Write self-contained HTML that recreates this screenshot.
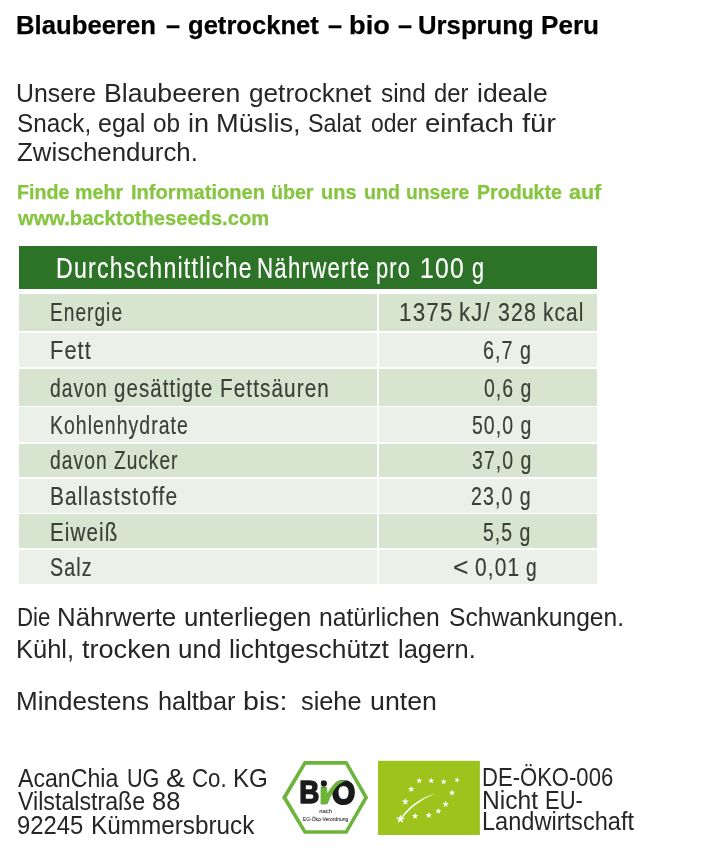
<!DOCTYPE html>
<html lang="de"><head><meta charset="utf-8"><title>Blaubeeren getrocknet</title><style>
html,body{margin:0;padding:0;background:#fff}
body{width:720px;height:856px;position:relative;overflow:hidden;font-family:"Liberation Sans", sans-serif;}
.t{position:absolute;margin:0;padding:0;line-height:1;white-space:pre;transform-origin:0 0;font-weight:400;color:#000}
.w{left:0;width:720px;height:1em}
.w span{position:absolute;top:0;white-space:pre;transform-origin:0 0}
h1.t,.g{font-weight:700}
.g{color:#86c540;-webkit-text-stroke:0.25px #86c540}
h1.t{-webkit-text-stroke:0.25px #000}
.p,.f{color:#262626}
.th{color:#fff}
.td,.tv{color:#3a4037;-webkit-text-stroke:0.2px #3a4037}
.th{-webkit-text-stroke:0.2px #fff}
.head{position:absolute;left:18.6px;top:246px;width:578.6px;height:42.5px;background:#2c7327}
.row{position:absolute;left:18.6px;width:578.6px}
.vsep{position:absolute;left:376.6px;top:294px;width:2px;height:290px;background:#fff}
svg{position:absolute;left:0;top:0}
</style></head><body>
<div class="head"></div>
<div class="row" style="top:294.0px;height:36.8px;background:#d7e4d0"></div>
<div class="row" style="top:332.6px;height:34.4px;background:#ebf0e8"></div>
<div class="row" style="top:368.8px;height:36.8px;background:#d7e4d0"></div>
<div class="row" style="top:407.4px;height:34.6px;background:#ebf0e8"></div>
<div class="row" style="top:443.8px;height:33.6px;background:#d7e4d0"></div>
<div class="row" style="top:479.2px;height:33.4px;background:#ebf0e8"></div>
<div class="row" style="top:514.4px;height:33.5px;background:#d7e4d0"></div>
<div class="row" style="top:549.7px;height:34.3px;background:#ebf0e8"></div>
<div class="vsep"></div>
<h1 class="t w title" style="top:12.00px;font-size:26.60px"><span style="left:16.48px;transform:scaleX(0.9672)">Blaubeeren</span> <span style="left:165.74px;transform:scaleX(0.9491)">–</span> <span style="left:187.95px;transform:scaleX(0.9623)">getrocknet</span> <span style="left:328.24px;transform:scaleX(0.9491)">–</span> <span style="left:349.20px;transform:scaleX(1.0244)">bio</span> <span style="left:398.24px;transform:scaleX(0.9491)">–</span> <span style="left:418.45px;transform:scaleX(0.9671)">Ursprung</span> <span style="left:540.76px;transform:scaleX(0.9802)">Peru</span></h1>
<p class="t w p" style="top:80.00px;font-size:26.60px"><span style="left:16.08px;transform:scaleX(0.9332)">Unsere</span> <span style="left:104.31px;transform:scaleX(1.0026)">Blaubeeren</span> <span style="left:248.90px;transform:scaleX(0.9846)">getrocknet</span> <span style="left:380.82px;transform:scaleX(0.9171)">sind</span> <span style="left:434.00px;transform:scaleX(0.8946)">der</span> <span style="left:476.73px;transform:scaleX(0.9966)">ideale</span></p>
<p class="t w p" style="top:110.00px;font-size:26.60px"><span style="left:16.90px;transform:scaleX(0.9135)">Snack,</span> <span style="left:97.94px;transform:scaleX(0.9392)">egal</span> <span style="left:152.98px;transform:scaleX(0.9140)">ob</span> <span style="left:188.19px;transform:scaleX(1.0176)">in</span> <span style="left:216.27px;transform:scaleX(1.0232)">Müslis,</span> <span style="left:307.94px;transform:scaleX(0.8780)">Salat</span> <span style="left:370.54px;transform:scaleX(0.8611)">oder</span> <span style="left:425.33px;transform:scaleX(1.0372)">einfach</span> <span style="left:522.09px;transform:scaleX(1.0985)">für</span></p>
<p class="t p" style="left:17.18px;top:139.00px;font-size:26.60px;transform:scaleX(0.9710)">Zwischendurch.</p>
<p class="t w g" style="top:182.34px;font-size:20.93px"><span style="left:16.79px;transform:scaleX(0.9386)">Finde</span> <span style="left:75.20px;transform:scaleX(0.9397)">mehr</span> <span style="left:130.65px;transform:scaleX(0.9610)">Informationen</span> <span style="left:271.28px;transform:scaleX(0.9373)">über</span> <span style="left:321.26px;transform:scaleX(0.9557)">uns</span> <span style="left:363.78px;transform:scaleX(0.9390)">und</span> <span style="left:406.30px;transform:scaleX(0.9231)">unsere</span> <span style="left:477.19px;transform:scaleX(0.9368)">Produkte</span> <span style="left:569.37px;transform:scaleX(1.0285)">auf</span></p>
<p class="t g" style="left:18.06px;top:208.34px;font-size:20.93px;transform:scaleX(0.9627)">www.backtotheseeds.com</p>
<div class="t w th" style="top:252.83px;font-size:29.94px"><span style="left:56.11px;transform:scaleX(0.7715);letter-spacing:1.600px">Durchschnittliche</span> <span style="left:257.47px;transform:scaleX(0.7456);letter-spacing:1.600px">Nährwerte</span> <span style="left:376.29px;transform:scaleX(0.7300);letter-spacing:1.600px">pro</span> <span style="left:419.82px;transform:scaleX(0.8249);letter-spacing:1.600px">100</span> <span style="left:471.79px;transform:scaleX(0.7204)">g</span></div>
<div class="t td" style="left:49.83px;top:299.29px;font-size:26.02px;transform:scaleX(0.7342);letter-spacing:1.400px">Energie</div>
<div class="t td" style="left:49.62px;top:337.29px;font-size:26.02px;transform:scaleX(0.8330);letter-spacing:1.400px">Fett</div>
<div class="t w td" style="top:375.29px;font-size:26.02px"><span style="left:50.29px;transform:scaleX(0.7421);letter-spacing:1.400px">davon</span> <span style="left:114.14px;transform:scaleX(0.7850);letter-spacing:1.400px">gesättigte</span> <span style="left:220.00px;transform:scaleX(0.7945);letter-spacing:1.400px">Fettsäuren</span></div>
<div class="t td" style="left:49.81px;top:412.29px;font-size:26.02px;transform:scaleX(0.7462);letter-spacing:1.400px">Kohlenhydrate</div>
<div class="t w td" style="top:447.29px;font-size:26.02px"><span style="left:50.29px;transform:scaleX(0.7421);letter-spacing:1.400px">davon</span> <span style="left:113.59px;transform:scaleX(0.7330);letter-spacing:1.400px">Zucker</span></div>
<div class="t td" style="left:49.68px;top:483.29px;font-size:26.02px;transform:scaleX(0.8037);letter-spacing:1.400px">Ballaststoffe</div>
<div class="t td" style="left:49.71px;top:519.29px;font-size:26.02px;transform:scaleX(0.7921);letter-spacing:1.400px">Eiweiß</div>
<div class="t td" style="left:50.31px;top:554.29px;font-size:26.02px;transform:scaleX(0.7566);letter-spacing:1.400px">Salz</div>
<div class="t w tv" style="top:299.29px;font-size:26.02px"><span style="left:399.40px;transform:scaleX(0.8592);letter-spacing:1.400px">1375</span> <span style="left:458.51px;transform:scaleX(0.8485);letter-spacing:1.400px">kJ/</span> <span style="left:497.89px;transform:scaleX(0.8210);letter-spacing:1.400px">328</span> <span style="left:542.50px;transform:scaleX(0.8004);letter-spacing:1.400px">kcal</span></div>
<div class="t tv" style="left:483.20px;top:337.29px;font-size:26.02px;transform:scaleX(0.7557);letter-spacing:1.400px">6,7 g</div>
<div class="t tv" style="left:483.64px;top:375.29px;font-size:26.02px;transform:scaleX(0.7453);letter-spacing:1.400px">0,6 g</div>
<div class="t tv" style="left:471.72px;top:412.29px;font-size:26.02px;transform:scaleX(0.7478);letter-spacing:1.400px">50,0 g</div>
<div class="t tv" style="left:471.76px;top:447.29px;font-size:26.02px;transform:scaleX(0.7486);letter-spacing:1.400px">37,0 g</div>
<div class="t tv" style="left:471.31px;top:483.29px;font-size:26.02px;transform:scaleX(0.7530);letter-spacing:1.400px">23,0 g</div>
<div class="t tv" style="left:483.42px;top:519.29px;font-size:26.02px;transform:scaleX(0.7473);letter-spacing:1.400px">5,5 g</div>
<div class="t w tv" style="top:554.29px;font-size:26.02px"><span style="left:453.40px;transform:scaleX(1.0125)">&lt;</span> <span style="left:474.98px;transform:scaleX(0.8030);letter-spacing:1.400px">0,01</span> <span style="left:525.90px;transform:scaleX(0.7350)">g</span></div>
<p class="t w p" style="top:604.00px;font-size:26.60px"><span style="left:16.57px;transform:scaleX(0.8372)">Die</span> <span style="left:56.88px;transform:scaleX(0.9720)">Nährwerte</span> <span style="left:184.33px;transform:scaleX(0.9675)">unterliegen</span> <span style="left:319.36px;transform:scaleX(0.9279)">natürlichen</span> <span style="left:448.88px;transform:scaleX(0.9248)">Schwankungen.</span></p>
<p class="t w p" style="top:636.00px;font-size:26.60px"><span style="left:16.21px;transform:scaleX(0.9579)">Kühl,</span> <span style="left:81.59px;transform:scaleX(1.0188)">trocken</span> <span style="left:178.31px;transform:scaleX(0.9771)">und</span> <span style="left:228.92px;transform:scaleX(0.9926)">lichtgeschützt</span> <span style="left:398.29px;transform:scaleX(0.9558)">lagern.</span></p>
<p class="t w p" style="top:688.00px;font-size:26.60px"><span style="left:16.17px;transform:scaleX(0.9783)">Mindestens</span> <span style="left:158.24px;transform:scaleX(0.9526)">haltbar</span> <span style="left:242.66px;transform:scaleX(1.0738)">bis:</span> <span style="left:300.60px;transform:scaleX(0.9519)">siehe</span> <span style="left:369.56px;transform:scaleX(1.0062)">unten</span></p>
<p class="t w f" style="top:765.07px;font-size:26.45px"><span style="left:17.55px;transform:scaleX(0.8750)">AcanChia</span> <span style="left:126.73px;transform:scaleX(0.8161)">UG</span> <span style="left:165.50px;transform:scaleX(1.0737)">&amp;</span> <span style="left:192.17px;transform:scaleX(0.8422)">Co.</span> <span style="left:233.32px;transform:scaleX(0.9128)">KG</span></p>
<p class="t w f" style="top:788.07px;font-size:26.45px"><span style="left:17.70px;transform:scaleX(0.8773)">Vilstalstraße</span> <span style="left:152.49px;transform:scaleX(0.9623)">88</span></p>
<p class="t w f" style="top:812.07px;font-size:26.45px"><span style="left:17.18px;transform:scaleX(0.9017)">92245</span> <span style="left:91.31px;transform:scaleX(0.9191)">Kümmersbruck</span></p>
<p class="t f" style="left:482.19px;top:764.58px;font-size:25.44px;transform:scaleX(0.8672)">DE-ÖKO-006</p>
<p class="t w f" style="top:787.58px;font-size:25.44px"><span style="left:481.98px;transform:scaleX(0.9661)">Nicht</span> <span style="left:544.90px;transform:scaleX(0.8646)">EU-</span></p>
<p class="t f" style="left:482.07px;top:808.58px;font-size:25.44px;transform:scaleX(0.9267)">Landwirtschaft</p>
<svg width="720" height="856" viewBox="0 0 720 856">
<polygon points="282.1,797.6 304,761 347.2,761 368.2,797.4 347.2,833.7 304,833.7" fill="#6cb43a"/>
<polygon points="286.6,797.6 305.9,764.8 345.3,764.8 364.0,797.4 345.3,830.2 305.9,830.2" fill="#fff"/>
<g font-family="'Liberation Sans', sans-serif" font-weight="700" fill="#1a1a1a" stroke="#1a1a1a" stroke-width="1.6" stroke-linejoin="round">
<text transform="translate(299.2,803.1) scale(0.897,1)" font-size="31.0">B</text>
<text transform="translate(319.2,803.6)" font-size="31" stroke-width="0.5">i</text>
<text transform="translate(331.9,804.0) scale(0.894,1)" font-size="33.3" stroke-width="2.2">O</text>
</g>
<path d="M320.6,787.3 L326.9,787.3 L327.5,793.3 C329,790 332,785.5 336.1,781.9 C339,780.1 343,779.8 346.7,780.5 C343.2,781.6 340,783.7 337.2,786 C333.5,790 330.5,797 327.6,804.1 L320.6,804.1 Z" fill="#6cb43a"/>
<circle cx="323.9" cy="783.6" r="3.05" fill="#1a1a1a"/>
<g font-family="'Liberation Sans', sans-serif" fill="#444" stroke="#444" stroke-width="0.15" text-anchor="middle">
<text x="325.6" y="812.6" font-size="5.8">nach</text>
<text x="325.6" y="821.0" font-size="6" textLength="45.5" lengthAdjust="spacingAndGlyphs">EG-Öko-Verordnung</text>
</g>
<rect x="378" y="760.8" width="101.9" height="74.2" fill="#9dc41c"/>
<g fill="#fff">
<polygon points="419.20,777.45 419.96,779.65 422.29,779.70 420.44,781.10 421.11,783.33 419.20,782.00 417.29,783.33 417.96,781.10 416.11,779.70 418.44,779.65"/>
<polygon points="431.20,777.45 431.96,779.65 434.29,779.70 432.44,781.10 433.11,783.33 431.20,782.00 429.29,783.33 429.96,781.10 428.11,779.70 430.44,779.65"/>
<polygon points="443.70,778.45 444.46,780.65 446.79,780.70 444.94,782.10 445.61,784.33 443.70,783.00 441.79,784.33 442.46,782.10 440.61,780.70 442.94,780.65"/>
<polygon points="458.10,777.36 458.07,779.45 460.01,780.20 458.02,780.82 457.90,782.90 456.70,781.19 454.69,781.73 455.94,780.06 454.81,778.31 456.78,778.98"/>
<polygon points="452.10,789.54 452.89,791.81 455.30,791.86 453.38,793.32 454.07,795.62 452.10,794.24 450.13,795.62 450.82,793.32 448.90,791.86 451.31,791.81"/>
<polygon points="445.70,800.84 446.49,803.11 448.90,803.16 446.98,804.62 447.67,806.92 445.70,805.54 443.73,806.92 444.42,804.62 442.50,803.16 444.91,803.11"/>
<polygon points="438.96,808.00 439.33,810.30 441.62,810.75 439.55,811.81 439.82,814.12 438.17,812.48 436.06,813.46 437.11,811.38 435.53,809.68 437.83,810.03"/>
<polygon points="428.70,812.04 429.49,814.31 431.90,814.36 429.98,815.82 430.67,818.12 428.70,816.74 426.73,818.12 427.42,815.82 425.50,814.36 427.91,814.31"/>
<polygon points="415.10,812.84 415.89,815.11 418.30,815.16 416.38,816.62 417.07,818.92 415.10,817.54 413.13,818.92 413.82,816.62 411.90,815.16 414.31,815.11"/>
<polygon points="400.40,814.40 401.51,817.58 404.87,817.65 402.19,819.68 403.16,822.91 400.40,820.98 397.64,822.91 398.61,819.68 395.93,817.65 399.29,817.58"/>
<polygon points="405.40,798.00 406.27,800.50 408.92,800.56 406.81,802.16 407.57,804.69 405.40,803.18 403.23,804.69 403.99,802.16 401.88,800.56 404.53,800.50"/>
<polygon points="411.20,785.63 412.02,787.98 414.50,788.03 412.52,789.53 413.24,791.91 411.20,790.49 409.16,791.91 409.88,789.53 407.90,788.03 410.38,787.98"/>
<path d="M400.2 819 C405.2 810.4 418.4 797.9 435.6 793.6 C420.4 799.5 408.6 809.4 401.3 819.6 Z"/>
</g>
</svg>
</body></html>
